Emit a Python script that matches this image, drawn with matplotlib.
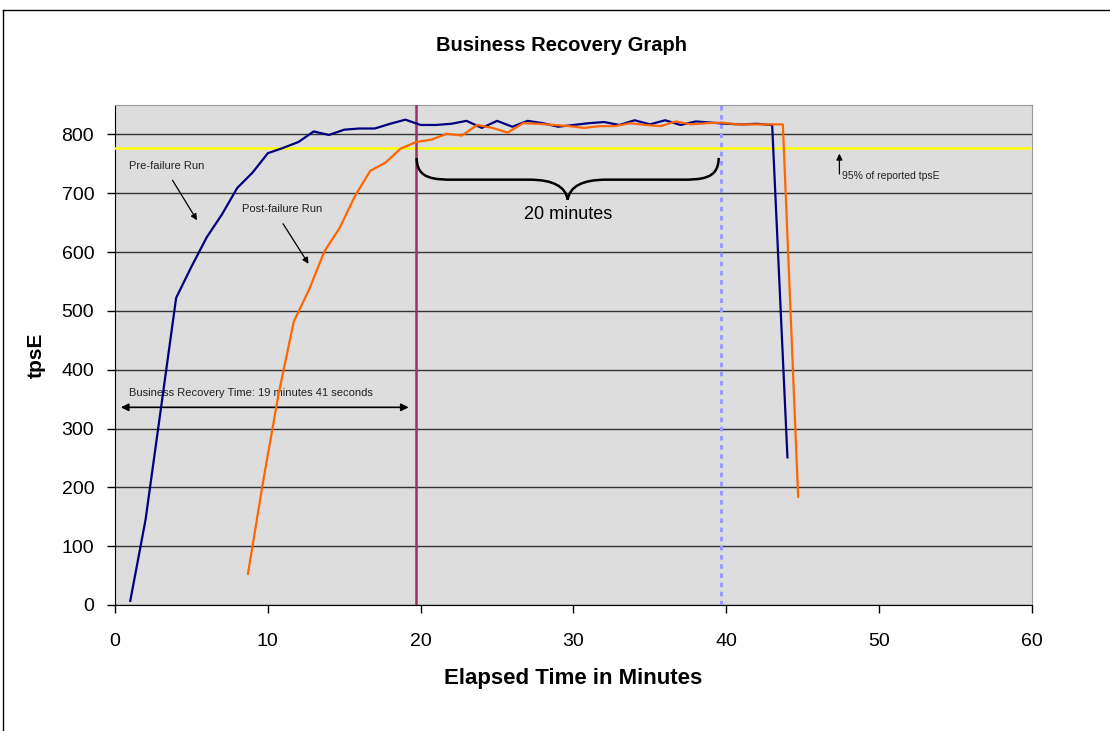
import matplotlib

matplotlib.use("Agg")
import matplotlib.pyplot as plt
from matplotlib.lines import Line2D
from matplotlib.path import Path
from matplotlib.patches import PathPatch

plt.rcParams["font.family"] = ["Liberation Sans", "DejaVu Sans"]

# pre-failure run (minutes, tpsE)
pre_minutes = list(range(1, 45))
pre_tpse = [7, 145, 333, 522, 575, 625, 664, 709, 735, 768,
            777, 787, 805, 799, 808, 810, 810, 818, 825, 816,
            816, 818, 823, 811, 823, 813, 823, 819, 813, 816,
            819, 821, 816, 824, 817, 824, 816, 822, 820, 818,
            817, 818, 816, 251]

# post-failure run
post_minutes = [m + 0.7 for m in range(8, 45)]
post_tpse = [53, 211, 358, 482, 536, 601, 641, 695, 738, 752,
             776, 787, 791, 801, 798, 816, 811, 803, 819, 818,
             816, 814, 811, 814, 814, 819, 816, 814, 822, 817,
             819, 820, 817, 817, 817, 817, 184]

threshold = 777          # 95% of reported tpsE
recovery_time = 19 + 41 / 60
window_end = recovery_time + 20

fig = plt.figure(figsize=(11.1, 7.31), dpi=100)
ax = fig.add_axes([0.1036, 0.1724, 0.8261, 0.684])
ax.set_facecolor("#DDDDDD")

ax.set_xlim(0, 60)
ax.set_ylim(0, 850)
ax.set_xticks(range(0, 61, 10))
ax.set_yticks(range(0, 801, 100))
ax.yaxis.grid(True, color="#333333", linewidth=1.0)
ax.set_axisbelow(True)
ax.tick_params(labelsize=14, length=6, direction="out", width=1)
ax.tick_params(axis="x", pad=14)
ax.tick_params(axis="y", pad=9)
for side in ("top", "right"):
    ax.spines[side].set_color("#999999")
for side in ("left", "bottom"):
    ax.spines[side].set_color("black")

ax.plot(pre_minutes, pre_tpse, color="#000080", linewidth=1.6, zorder=4)
ax.plot(post_minutes, post_tpse, color="#FF6600", linewidth=1.6, zorder=5)

ax.axhline(threshold, color="#FFFF00", linewidth=1.8, zorder=3)
ax.axvline(recovery_time, color="#993366", linewidth=1.8, zorder=3)
ax.axvline(window_end, color="#9999FF", linewidth=2.2, linestyle=(0, (1.5, 1.5)), zorder=3)

# curly brace over the 20 minute window
x0, x1 = 19.74, 39.5
xm = (x0 + x1) / 2
top, mid, tip = 760, 723, 689
verts = [(x0, top), (x0, mid), (x0 + 1.2, mid), (x0 + 2.5, mid),
         (xm - 2.5, mid), (xm - 0.2, mid), (xm, tip),
         (xm + 0.2, mid), (xm + 2.5, mid),
         (x1 - 2.5, mid), (x1 - 1.2, mid), (x1, mid), (x1, top)]
codes = [Path.MOVETO, Path.CURVE4, Path.CURVE4, Path.LINETO,
         Path.LINETO, Path.CURVE3, Path.CURVE3,
         Path.CURVE3, Path.CURVE3,
         Path.LINETO, Path.CURVE4, Path.CURVE4, Path.CURVE4]
ax.add_patch(PathPatch(Path(verts, codes), facecolor="none", edgecolor="black",
                       linewidth=1.8, zorder=6))
ax.text(xm, 664, "20 minutes", fontsize=13, ha="center", va="center", zorder=6)

arrow = dict(arrowstyle="-|>", color="black", linewidth=0.9, mutation_scale=9)
ax.text(0.9, 746, "Pre-failure Run", fontsize=8, va="center", color="#222222")
ax.annotate("", xy=(5.46, 650), xytext=(3.67, 726), arrowprops=arrow)
ax.text(8.3, 674, "Post-failure Run", fontsize=8, va="center", color="#222222")
ax.annotate("", xy=(12.76, 576), xytext=(10.9, 652), arrowprops=arrow)

ax.annotate("", xy=(47.4, 772), xytext=(47.4, 728), arrowprops=arrow)
ax.text(47.6, 730, "95% of reported tpsE", fontsize=7.5, va="center", color="#222222")

ax.annotate("", xy=(0.2, 336), xytext=(19.4, 336),
            arrowprops=dict(arrowstyle="<|-|>", color="black", linewidth=1.2,
                            mutation_scale=11))
ax.text(0.9, 360, "Business Recovery Time: 19 minutes 41 seconds", fontsize=8,
        va="center", color="#222222")

ax.set_xlabel("Elapsed Time in Minutes", fontsize=16, fontweight="bold", labelpad=13)
ax.set_ylabel("tpsE", fontsize=15, fontweight="bold", labelpad=11)
fig.text(0.506, 0.938, "Business Recovery Graph", fontsize=14.5, fontweight="bold",
         ha="center", va="center")

# outer chart frame (only the left and top edges are visible in the crop)
fig.add_artist(Line2D([0.0027, 0.0027], [0.0, 0.9863], color="black", linewidth=1.0,
                      transform=fig.transFigure))
fig.add_artist(Line2D([0.0027, 1.0], [0.9863, 0.9863], color="black", linewidth=1.0,
                      transform=fig.transFigure))

fig.savefig("out.png", dpi=100)
plt.close(fig)
